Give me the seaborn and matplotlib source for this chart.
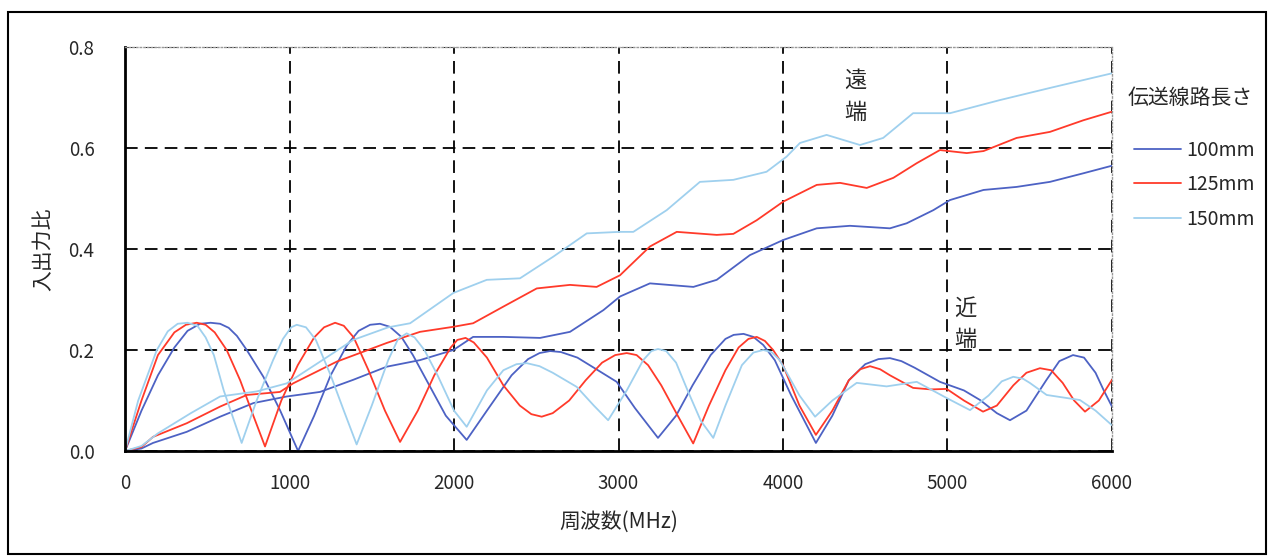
import matplotlib
matplotlib.use("Agg")
import matplotlib.pyplot as plt
import numpy as np
import pandas as pd
import seaborn as sns
from matplotlib.lines import Line2D
from matplotlib.patches import Rectangle
from matplotlib.ticker import MultipleLocator

# far-end (遠端) curves
far_100_freq = [0, 100, 170, 375, 578, 781, 983, 1185, 1387, 1591, 1793, 1996, 2116, 2300, 2523, 2705,
                2908, 3009, 3191, 3455, 3597, 3799, 4002, 4205, 4407, 4650, 4752, 4914, 5015, 5219,
                5420, 5623, 5826, 6000]
far_100_val = [0.0, 0.005, 0.016, 0.038, 0.068, 0.095, 0.108, 0.117, 0.141, 0.167, 0.18, 0.2, 0.226,
               0.226, 0.224, 0.236, 0.279, 0.306, 0.332, 0.325, 0.339, 0.388, 0.418, 0.441, 0.446,
               0.441, 0.451, 0.477, 0.497, 0.517, 0.523, 0.533, 0.55, 0.565]

far_125_freq = [0, 100, 170, 375, 578, 740, 942, 1022, 1287, 1591, 1793, 1996, 2116, 2300, 2503, 2705,
                2867, 3009, 3191, 3354, 3597, 3698, 3840, 4002, 4205, 4347, 4509, 4671, 4813, 4954,
                5117, 5219, 5420, 5623, 5826, 6000]
far_125_val = [0.0, 0.008, 0.028, 0.055, 0.088, 0.111, 0.117, 0.134, 0.177, 0.214, 0.236, 0.246, 0.253,
               0.286, 0.322, 0.329, 0.325, 0.348, 0.405, 0.434, 0.428, 0.43, 0.457, 0.494, 0.527,
               0.531, 0.521, 0.541, 0.57, 0.596, 0.59, 0.594, 0.62, 0.632, 0.655, 0.672]

far_150_freq = [0, 100, 200, 400, 578, 800, 983, 1200, 1387, 1600, 1733, 1996, 2199, 2401, 2604, 2807,
                3009, 3090, 3293, 3495, 3698, 3900, 4022, 4103, 4265, 4468, 4609, 4791, 5015, 5319,
                5623, 6000]
far_150_val = [0.0, 0.01, 0.035, 0.075, 0.108, 0.118, 0.134, 0.18, 0.22, 0.245, 0.253, 0.313, 0.339,
               0.342, 0.385, 0.431, 0.434, 0.434, 0.477, 0.533, 0.537, 0.553, 0.583, 0.61, 0.626,
               0.606, 0.62, 0.669, 0.669, 0.695, 0.719, 0.748]

# near-end (近端) curves
near_100_freq = [0, 100, 200, 300, 380, 456, 520, 578, 630, 680, 740, 841, 942, 1052, 1150, 1250, 1350,
                 1420, 1490, 1550, 1610, 1680, 1750, 1850, 1950, 2077, 2200, 2350, 2450, 2520, 2584,
                 2650, 2750, 2850, 2989, 3100, 3240, 3350, 3450, 3560, 3650, 3700, 3760, 3820, 3880,
                 3950, 4050, 4200, 4300, 4400, 4500, 4580, 4650, 4720, 4800, 4954, 5100, 5198, 5300,
                 5380, 5480, 5600, 5680, 5763, 5830, 5900, 5950, 6000]
near_100_val = [0.0, 0.08, 0.15, 0.205, 0.238, 0.252, 0.254, 0.252, 0.244, 0.228, 0.2, 0.147, 0.081, 0.0,
                0.07, 0.15, 0.21, 0.238, 0.25, 0.252, 0.246, 0.226, 0.19, 0.13, 0.07, 0.022, 0.08,
                0.15, 0.182, 0.194, 0.198, 0.196, 0.185, 0.165, 0.137, 0.085, 0.026, 0.07, 0.13, 0.19,
                0.222, 0.23, 0.232, 0.226, 0.21, 0.18, 0.11, 0.016, 0.07, 0.14, 0.172, 0.182, 0.184,
                0.178, 0.165, 0.137, 0.12, 0.101, 0.075, 0.061, 0.08, 0.14, 0.178, 0.19, 0.185, 0.155,
                0.12, 0.088]

near_125_freq = [0, 100, 200, 300, 370, 436, 490, 545, 618, 700, 780, 851, 950, 1050, 1150, 1210, 1277,
                 1330, 1390, 1480, 1580, 1672, 1780, 1880, 1980, 2020, 2070, 2120, 2200, 2300, 2400,
                 2470, 2533, 2600, 2700, 2800, 2900, 2980, 3050, 3110, 3180, 3260, 3360, 3454, 3550,
                 3650, 3730, 3790, 3840, 3890, 3940, 4000, 4100, 4200, 4300, 4400, 4470, 4529, 4590,
                 4650, 4791, 4900, 4995, 5100, 5216, 5300, 5400, 5480, 5562, 5630, 5700, 5770, 5836,
                 5920, 6000]
near_125_val = [0.0, 0.1, 0.19, 0.235, 0.25, 0.254, 0.25, 0.235, 0.2, 0.14, 0.07, 0.009, 0.1, 0.17,
                0.225, 0.245, 0.254, 0.248, 0.225, 0.16, 0.08, 0.018, 0.08, 0.15, 0.205, 0.22, 0.224,
                0.215, 0.185, 0.13, 0.09, 0.073, 0.068, 0.075, 0.1, 0.14, 0.175, 0.19, 0.194, 0.19,
                0.17, 0.13, 0.07, 0.015, 0.09, 0.16, 0.205, 0.222, 0.226, 0.218, 0.2, 0.17, 0.09,
                0.032, 0.08, 0.14, 0.162, 0.168, 0.162, 0.15, 0.125, 0.122, 0.123, 0.1, 0.078, 0.09,
                0.13, 0.155, 0.164, 0.16, 0.135, 0.1, 0.078, 0.1, 0.141]

near_150_freq = [0, 80, 193, 260, 320, 380, 440, 490, 540, 600, 709, 800, 900, 960, 1010, 1044, 1100,
                 1160, 1250, 1330, 1408, 1500, 1600, 1660, 1712, 1760, 1820, 1900, 2000, 2077, 2200,
                 2300, 2380, 2442, 2520, 2600, 2746, 2850, 2937, 3050, 3150, 3200, 3240, 3290, 3350,
                 3420, 3500, 3576, 3650, 3750, 3820, 3880, 3930, 3980, 4100, 4195, 4300, 4448, 4630,
                 4813, 4995, 5137, 5250, 5330, 5400, 5460, 5500, 5603, 5805, 5900, 6000]
near_150_val = [0.0, 0.1, 0.2, 0.237, 0.252, 0.254, 0.248, 0.225, 0.19, 0.12, 0.016, 0.1, 0.18, 0.222,
                0.245, 0.25, 0.245, 0.22, 0.15, 0.08, 0.013, 0.09, 0.18, 0.222, 0.233, 0.225, 0.2,
                0.15, 0.08, 0.048, 0.12, 0.16, 0.172, 0.174, 0.168, 0.155, 0.127, 0.09, 0.061, 0.12,
                0.18, 0.198, 0.202, 0.198, 0.175, 0.12, 0.06, 0.026, 0.09, 0.17, 0.195, 0.2, 0.196,
                0.18, 0.11, 0.068, 0.1, 0.135, 0.128, 0.137, 0.105, 0.081, 0.11, 0.138, 0.147, 0.143,
                0.135, 0.111, 0.101, 0.08, 0.051]

lengths = ["100mm", "125mm", "150mm"]
colors = {"100mm": "#4d62c4", "125mm": "#ff3a2a", "150mm": "#9fd0ee"}
y_ticks = [0.0, 0.2, 0.4, 0.6, 0.8]

series = {
    "100mm": [(far_100_freq, far_100_val), (near_100_freq, near_100_val)],
    "125mm": [(far_125_freq, far_125_val), (near_125_freq, near_125_val)],
    "150mm": [(far_150_freq, far_150_val), (near_150_freq, near_150_val)],
}

sns.set_style("white")
plt.rcParams["font.family"] = ["Noto Sans CJK JP", "DejaVu Sans"]

fig = plt.figure(figsize=(12.72, 5.6), dpi=100)
ax = fig.add_axes([0.0983, 0.1946, 0.7759, 0.7214])

for length in lengths:
    for freq, val in series[length]:
        sns.lineplot(x=freq, y=val, color=colors[length], linewidth=1.3, ax=ax, legend=False)

ax.xaxis.set_major_locator(MultipleLocator(1000))
ax.xaxis.set_minor_locator(MultipleLocator(500))
ax.set_yticks(y_ticks)
ax.set_yticklabels([f"{v:.1f}" for v in y_ticks])
ax.yaxis.set_minor_locator(MultipleLocator(0.1))
ax.set_xlim(0, 6000)
ax.set_ylim(0, 0.8)
ax.tick_params(which="both", direction="in", color="black", width=1.2, labelsize=13.5)
ax.tick_params(which="major", length=0)
ax.tick_params(which="minor", length=5)
ax.tick_params(axis="y", pad=22)
ax.tick_params(axis="x", pad=16)

ax.grid(True, which="major", color="black", linestyle=(0, (7, 4)), linewidth=1.3)
for side in ["left", "bottom"]:
    ax.spines[side].set_color("black")
    ax.spines[side].set_linewidth(2)
for side in ["top", "right"]:
    ax.spines[side].set_color("#999999")
    ax.spines[side].set_linestyle(":")
    ax.spines[side].set_linewidth(1)

ax.set_xlabel("周波数(MHz)", fontsize=15, labelpad=12)
ax.set_ylabel("入出力比", fontsize=15, labelpad=10)

ax.text(4438, 0.735, "遠", fontsize=16, ha="center", va="center")
ax.text(4438, 0.671, "端", fontsize=16, ha="center", va="center")
ax.text(5110, 0.283, "近", fontsize=16, ha="center", va="center")
ax.text(5110, 0.22, "端", fontsize=16, ha="center", va="center")

fig.text(0.8865, 0.826, "伝送線路長さ", fontsize=15, ha="left", va="center")
handles = [Line2D([], [], color=colors[l], linewidth=1.3) for l in lengths]
ax.legend(handles, lengths, loc="upper left", bbox_to_anchor=(0.884, 0.768),
          bbox_transform=fig.transFigure, frameon=False, fontsize=14,
          handlelength=2.4, handletextpad=0.3, labelspacing=0.7, borderpad=0)

fig.patches.append(Rectangle((0.006, 0.01), 0.989, 0.969, transform=fig.transFigure,
                             fill=False, edgecolor="black", linewidth=1.5))

plt.savefig("out.png", dpi=100)
plt.close()
